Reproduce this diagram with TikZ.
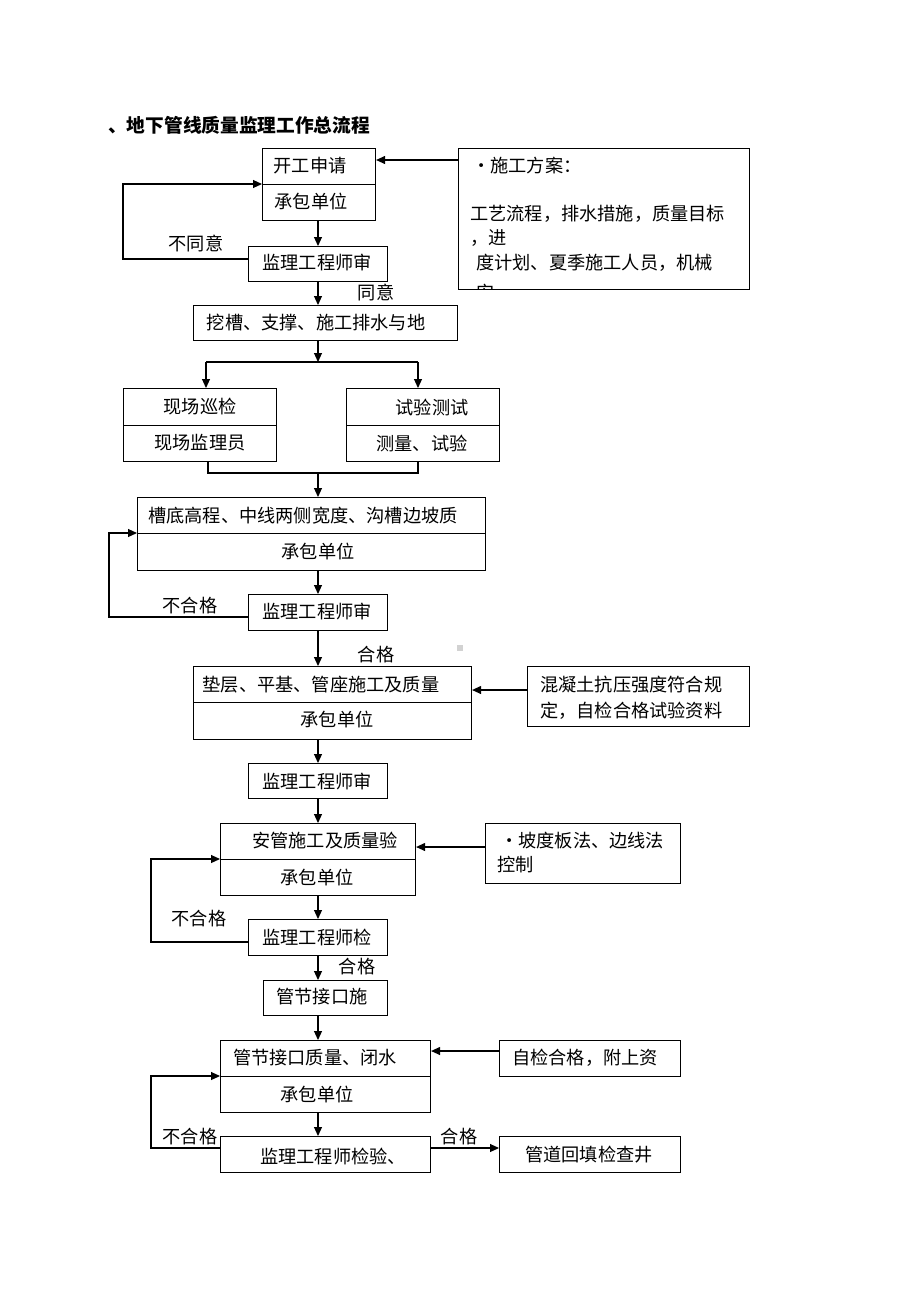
\documentclass[tikz,border=0pt]{standalone}
\usepackage{fontspec}
\setmainfont{Noto Sans CJK SC}
\usetikzlibrary{arrows.meta}
\tikzset{
  box/.style={draw, line width=1.1pt, inner sep=0pt, anchor=north west},
  arr/.style={line width=1.1pt, -{Triangle[length=9pt,width=8pt]}},
  ln/.style={line width=1.1pt},
  txt/.style={font=\fontsize{18.2}{19}\selectfont, inner sep=0pt},
  ltxt/.style={txt, anchor=west},
}
\newcommand\mybox[5]{\node[box, minimum width={#4pt-#2pt}, minimum height={#5pt-#3pt}] (#1) at (#2,#3) {};}
\begin{document}
\begin{tikzpicture}[x=1pt,y=-1pt]
\useasboundingbox (0,0) rectangle (920,1302);
\node[font=\bfseries\fontsize{18.7}{19}\selectfont, anchor=west, inner sep=0pt] (title) at (108,125) {、地下管线质量监理工作总流程};

% boxes
\mybox{b1t}{262}{148}{375}{184}
\mybox{b1b}{262}{184}{375}{220}
\mybox{s1}{458}{148}{749}{289}
\mybox{r1}{248}{246}{387}{281}
\mybox{w1}{193}{305}{457}{340}
\mybox{x1t}{123}{388}{276}{425}
\mybox{x1b}{123}{425}{276}{461}
\mybox{x2t}{346}{388}{499}{425}
\mybox{x2b}{346}{425}{499}{461}
\mybox{c1t}{137}{497}{485}{533}
\mybox{c1b}{137}{533}{485}{570}
\mybox{r2}{248}{594}{387}{630}
\mybox{d1t}{193}{666}{471}{702}
\mybox{d1b}{193}{702}{471}{739}
\mybox{h1}{527}{666}{749}{726}
\mybox{r3}{248}{763}{387}{798}
\mybox{a1t}{220}{823}{415}{859}
\mybox{a1b}{220}{859}{415}{895}
\mybox{p1}{485}{823}{680}{883}
\mybox{r4}{248}{919}{387}{955}
\mybox{g1}{263}{980}{387}{1015}
\mybox{j1t}{220}{1040}{430}{1076}
\mybox{j1b}{220}{1076}{430}{1112}
\mybox{z1}{499}{1040}{680}{1076}
\mybox{r5}{220}{1136}{430}{1172}
\mybox{h2}{499}{1136}{680}{1172}

% texts
\node[txt] (tb1t) at (310,166) {开工申请};
\node[txt] (tb1b) at (311,202) {承包单位};
\begin{scope}
\clip (458,148) rectangle (749,289);
\node[ltxt] (ts1a) at (472,166) {•施工方案：};
\node[ltxt] (ts1b) at (470,214) {工艺流程，排水措施，质量目标};
\node[ltxt] (ts1c) at (470,238) {，进};
\node[ltxt] (ts1d) at (476,263) {度计划、夏季施工人员，机械};
\node[ltxt] (ts1e) at (476,293) {安};
\end{scope}
\node[txt] (tr1) at (317,263) {监理工程师审};
\node[txt] (l1) at (196,244) {不同意};
\node[txt] (l2) at (376,293) {同意};
\node[txt] (tw1) at (316,323) {挖槽、支撑、施工排水与地};
\node[txt] (tx1t) at (200,407) {现场巡检};
\node[txt] (tx1b) at (200,443) {现场监理员};
\node[txt] (tx2t) at (432,407) {试验测试};
\node[txt] (tx2b) at (422,443) {测量、试验};
\node[txt] (tc1t) at (303,516) {槽底高程、中线两侧宽度、沟槽边坡质};
\node[txt] (tc1b) at (318,552) {承包单位};
\node[txt] (tr2) at (317,612) {监理工程师审};
\node[txt] (l3) at (190,606) {不合格};
\node[txt] (l4) at (376,655) {合格};
\node[txt] (td1t) at (321,685) {垫层、平基、管座施工及质量};
\node[txt] (td1b) at (337,720) {承包单位};
\node[ltxt] (th1a) at (540,685) {混凝土抗压强度符合规};
\node[ltxt] (th1b) at (540,711) {定，自检合格试验资料};
\node[txt] (tr3) at (317,781) {监理工程师审};
\node[txt] (ta1t) at (325,841) {安管施工及质量验};
\node[txt] (ta1b) at (317,877) {承包单位};
\node[ltxt] (tp1a) at (500,841) {•坡度板法、边线法};
\node[ltxt] (tp1b) at (497,865) {控制};
\node[txt] (tr4) at (317,937) {监理工程师检};
\node[txt] (l5) at (199,919) {不合格};
\node[txt] (l6) at (357,967) {合格};
\node[txt] (tg1) at (322,997) {管节接口施};
\node[txt] (tj1t) at (315,1058) {管节接口质量、闭水};
\node[txt] (tj1b) at (317,1094) {承包单位};
\node[txt] (tz1) at (585,1058) {自检合格，附上资};
\node[txt] (tr5) at (333,1156) {监理工程师检验、};
\node[txt] (l7) at (190,1137) {不合格};
\node[txt] (l8) at (459,1137) {合格};
\node[txt] (th2) at (589,1155) {管道回填检查井};

\fill[gray!35] (457,645) rectangle (463,651);

% connectors
\coordinate (ax) at (318,0);
\draw[arr] (ax |- b1b.south) -- (ax |- r1.north);
\draw[arr] (s1.west |- 0,160) -- (b1t.east |- 0,160);
\draw[arr] (r1.west |- 0,259) -- (123,259) -- (123,184) -- (b1t.west |- 0,184);
\draw[arr] (ax |- r1.south) -- (ax |- w1.north);
\coordinate (sp) at (318,362);
\coordinate (spl) at (206,362);
\coordinate (spr) at (418,362);
\draw[arr] (ax |- w1.south) -- (sp);
\draw[ln] (spl) -- (spr);
\draw[arr] (spl) -- (spl |- x1t.north);
\draw[arr] (spr) -- (spr |- x2t.north);
\coordinate (jl) at (208,473);
\coordinate (jr) at (418,473);
\coordinate (jm) at (318,473);
\draw[ln] (jl |- x1b.south) -- (jl) -- (jr) -- (jr |- x2b.south);
\draw[arr] (jm) -- (ax |- c1t.north);
\draw[arr] (ax |- c1b.south) -- (ax |- r2.north);
\draw[arr] (r2.west |- 0,617) -- (109,617) -- (109,533) -- (c1t.west |- 0,533);
\draw[arr] (ax |- r2.south) -- (ax |- d1t.north);
\draw[arr] (h1.west |- 0,690) -- (d1t.east |- 0,690);
\draw[arr] (ax |- d1b.south) -- (ax |- r3.north);
\draw[arr] (ax |- r3.south) -- (ax |- a1t.north);
\draw[arr] (p1.west |- 0,847) -- (a1t.east |- 0,847);
\draw[arr] (ax |- a1b.south) -- (ax |- r4.north);
\draw[arr] (r4.west |- 0,942) -- (151,942) -- (151,859) -- (a1t.west |- 0,859);
\draw[arr] (ax |- r4.south) -- (ax |- g1.north);
\draw[arr] (ax |- g1.south) -- (ax |- j1t.north);
\draw[arr] (z1.west |- 0,1051) -- (j1t.east |- 0,1051);
\draw[arr] (ax |- j1b.south) -- (ax |- r5.north);
\draw[arr] (r5.west |- 0,1148) -- (151,1148) -- (151,1076) -- (j1t.west |- 0,1076);
\draw[arr] (r5.east |- 0,1148) -- (h2.west |- 0,1148);
\end{tikzpicture}
\end{document}
